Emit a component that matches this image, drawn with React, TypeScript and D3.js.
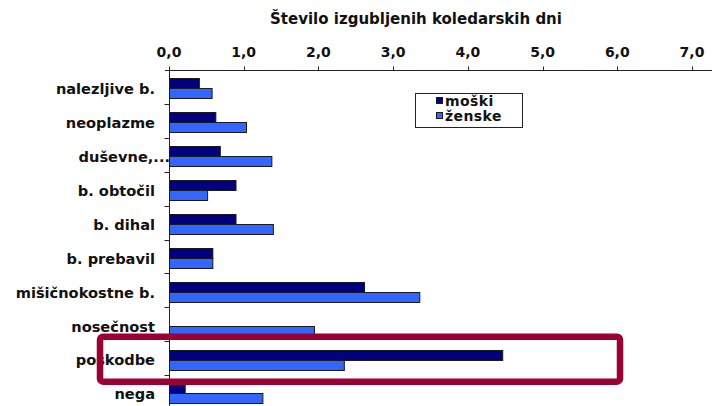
import React from "react";
import * as d3 from "d3";

const categories = [
  "nalezljive b.",
  "neoplazme",
  "duševne,...",
  "b. obtočil",
  "b. dihal",
  "b. prebavil",
  "mišičnokostne b.",
  "nosečnost",
  "poškodbe",
  "nega",
];
const moski = [0.4, 0.62, 0.68, 0.89, 0.89, 0.58, 2.61, 0, 4.46, 0.21];
const zenske = [0.57, 1.03, 1.37, 0.51, 1.39, 0.58, 3.35, 1.94, 2.34, 1.25];
const seriesNames = ["moški", "ženske"];
const tickValues = [0, 1, 2, 3, 4, 5, 6, 7];
const title = "Število izgubljenih koledarskih dni";
const highlighted = "poškodbe";

const W = 715;
const H = 406;
const colors = ["#000080", "#3366FF"];
const font = "'DejaVu Sans', Verdana, sans-serif";

export default function App() {
  const x = d3.scaleLinear().domain([0, 7]).range([169, 692]);
  const y = d3.scaleBand<string>().domain(categories).range([70, 70 + 33.9 * 10]).paddingInner(0).paddingOuter(0);
  const bw = y.bandwidth();
  const barH = bw * 0.29;
  const barOff = bw * 0.245;
  const axisY = 70.5;
  const x0 = x(0);
  const hb = y(highlighted)!;

  return (
    <svg width={W} height={H} style={{ position: "absolute", left: 0, top: 0, background: "#fff" }}>
      <text x={416} y={24} textAnchor="middle" fontFamily={font} fontWeight="bold" fontSize={15} fill="#111">
        {title}
      </text>
      {/* top axis */}
      <line x1={165} x2={712} y1={axisY} y2={axisY} stroke="#222" strokeWidth={1} />
      {tickValues.map((t) => (
        <g key={t}>
          <line x1={Math.round(x(t)) + 0.5} x2={Math.round(x(t)) + 0.5} y1={axisY - 4} y2={axisY} stroke="#222" />
          <text x={x(t)} y={57} textAnchor="middle" fontFamily={font} fontWeight="bold" fontSize={14} fill="#111">
            {d3.format(".1f")(t).replace(".", ",")}
          </text>
        </g>
      ))}
      {/* left axis */}
      <line x1={x0 + 0.5} x2={x0 + 0.5} y1={axisY} y2={H} stroke="#222" />
      {categories.map((c, i) => (
        <line key={"t" + i} x1={x0 - 4.5} x2={x0 + 0.5} y1={Math.round(y(c)! + bw) + 0.5} y2={Math.round(y(c)! + bw) + 0.5} stroke="#222" />
      ))}
      {/* bars */}
      {categories.map((c, i) => {
        const yb = y(c)! + barOff;
        return (
          <g key={c}>
            {moski[i] > 0 && (
              <rect x={x0 + 0.5} y={Math.round(yb) + 0.5} width={x(moski[i]) - x0} height={Math.round(barH)} fill={colors[0]} stroke="#1a1a1a" strokeWidth={1} />
            )}
            {zenske[i] > 0 && (
              <rect x={x0 + 0.5} y={Math.round(yb) + Math.round(barH) + 0.5} width={x(zenske[i]) - x0} height={Math.round(barH)} fill={colors[1]} stroke="#1a1a1a" strokeWidth={1} />
            )}
            <text
              x={c.endsWith("...") ? 170 : 155}
              y={yb + barH + 1}
              dy="0.35em"
              textAnchor="end"
              fontFamily={font}
              fontWeight="bold"
              fontSize={14.6}
              fill="#111"
            >
              {c}
            </text>
          </g>
        );
      })}
      {/* legend */}
      <rect x={415.5} y={93.5} width={107} height={34} fill="#fff" stroke="#222" strokeWidth={1} />
      {seriesNames.map((s, i) => (
        <g key={s}>
          <rect x={436.5} y={97.5 + i * 15} width={6} height={6} fill={colors[i]} stroke="#1a1a1a" />
          <text x={445} y={106 + i * 15} fontFamily={font} fontWeight="bold" fontSize={14} letterSpacing={0.4} fill="#111">
            {s}
          </text>
        </g>
      ))}
      {/* highlight box */}
      <rect x={100} y={hb - 4.5} width={520} height={45} rx={3} fill="none" stroke="#990033" strokeWidth={6.5} />
    </svg>
  );
}
